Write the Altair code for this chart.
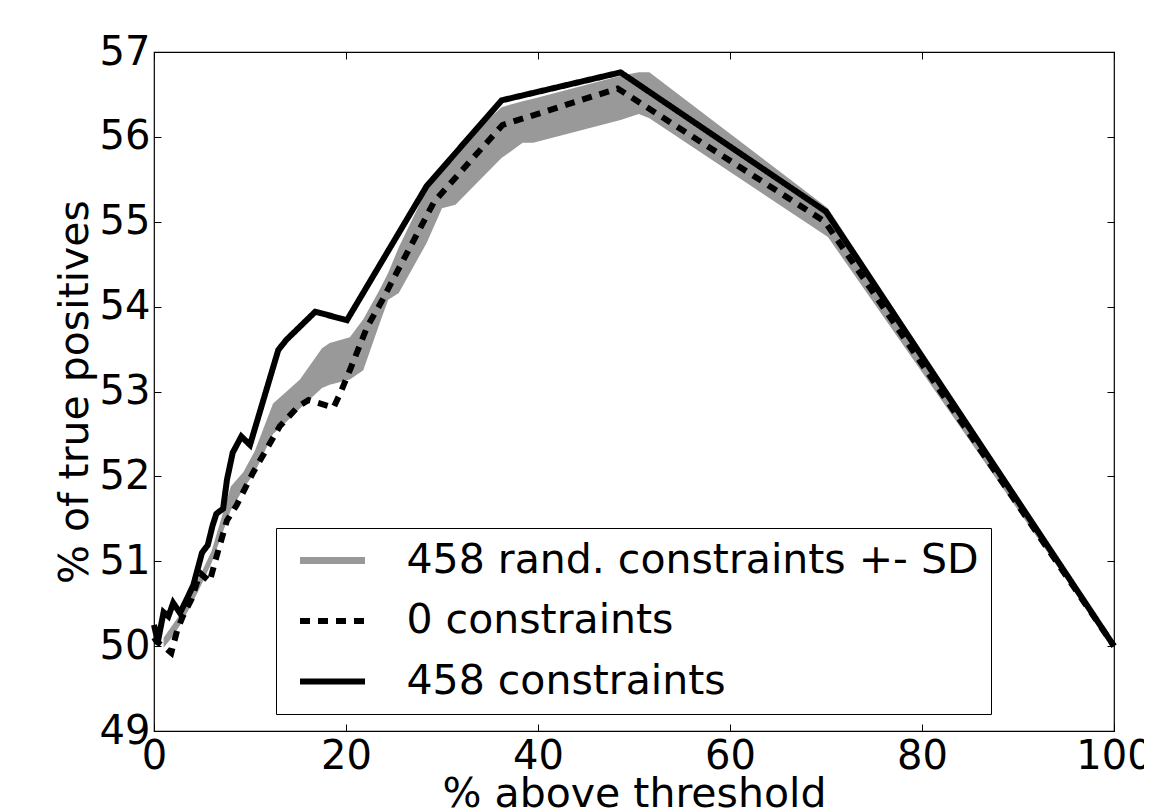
import altair as alt
import pandas as pd

# ---- data ----
# "458 constraints" (solid black)
solid_x = [0.0, 0.4, 1.0, 1.5, 2.0, 2.7, 3.4, 4.1, 5.0, 5.6, 6.1, 6.5, 7.2, 7.6, 8.2, 9.1, 10.0,
           12.95, 13.8, 16.8, 20.1, 28.4, 36.2, 48.6, 70.0, 100.0]
solid_y = [50.25, 50.05, 50.4, 50.35, 50.51, 50.39, 50.55, 50.72, 51.1, 51.19, 51.42, 51.56, 51.62,
           51.96, 52.28, 52.47, 52.37, 53.49, 53.61, 53.94, 53.84, 55.42, 56.43, 56.76, 55.12, 50.0]

# "0 constraints" (dashed black)
dashed_x = [0.0, 0.3, 0.95, 1.8, 2.4, 3.0, 3.9, 4.8, 5.8, 6.5, 7.6, 8.6, 10.3, 13.1, 15.0, 16.1,
            18.7, 19.4, 20.4, 22.2, 23.7, 25.6, 29.2, 36.3, 48.3, 69.9, 100.0]
dashed_y = [50.1, 50.05, 50.0, 49.92, 50.18, 50.35, 50.55, 50.86, 50.76, 51.05, 51.48, 51.66, 52.04,
            52.59, 52.82, 52.9, 52.81, 52.98, 53.25, 53.76, 54.06, 54.47, 55.24, 56.14, 56.57, 55.0, 50.0]

# "458 rand. constraints +- SD" (grey band)
band_x = [1.0, 2.0, 3.0, 4.5, 6.0, 8.0, 9.3, 10.5, 12.4, 13.4, 15.2, 17.5, 18.3, 20.4, 21.8, 23.5,
          24.4, 25.5, 28.4, 30.0, 31.4, 36.2, 38.4, 39.5, 48.6, 50.5, 51.6, 70.2, 100.0]
band_hi = [50.1, 50.26, 50.42, 50.76, 51.12, 51.88, 52.05, 52.3, 52.86, 52.96, 53.14, 53.51, 53.57,
           53.64, 53.85, 54.2, 54.4, 54.7, 55.38, 55.68, 55.85, 56.35, 56.42, 56.45, 56.72, 56.76,
           56.76, 55.16, 50.03]
band_lo = [49.98, 50.12, 50.3, 50.62, 50.98, 51.6, 51.85, 52.05, 52.5, 52.6, 52.8, 53.04, 53.08,
           53.14, 53.25, 53.8, 54.08, 54.16, 54.75, 55.16, 55.2, 55.75, 55.93, 55.93, 56.2, 56.27,
           56.22, 54.82, 49.98]

series_names = ["458 rand. constraints +- SD", "0 constraints", "458 constraints"]
x_ticks = [0, 20, 40, 60, 80, 100]
y_ticks = [49, 50, 51, 52, 53, 54, 55, 56, 57]

GRAY = "#999999"
FONT = "DejaVu Sans"

lines = pd.DataFrame({
    "x": dashed_x + solid_x,
    "y": dashed_y + solid_y,
    "series": [series_names[1]] * len(dashed_x) + [series_names[2]] * len(solid_x),
    "idx": list(range(len(dashed_x))) + list(range(len(solid_x))),
})
band = pd.DataFrame({"x": band_x, "hi": band_hi, "lo": band_lo})

xscale = alt.Scale(domain=[0, 100], nice=False, zero=False)
yscale = alt.Scale(domain=[49, 57], nice=False, zero=False)

band_layer = alt.Chart(band).mark_area(color=GRAY, opacity=1).encode(
    x=alt.X("x:Q", scale=xscale, title="% above threshold",
            axis=alt.Axis(orient="bottom", values=x_ticks, labelPadding=5, titlePadding=-2)),
    y=alt.Y("hi:Q", scale=yscale, title="% of true positives",
            axis=alt.Axis(orient="left", values=y_ticks, labelPadding=4, titlePadding=3)),
    y2="lo:Q",
)

line_layer = alt.Chart(lines).mark_line(strokeCap="butt").encode(
    x=alt.X("x:Q", scale=xscale, title=None,
            axis=alt.Axis(orient="top", values=x_ticks, labels=False)),
    y=alt.Y("y:Q", scale=yscale, title=None,
            axis=alt.Axis(orient="right", values=y_ticks, labels=False)),
    color=alt.Color(
        "series:N",
        scale=alt.Scale(domain=series_names, range=[GRAY, "black", "black"]),
        legend=alt.Legend(
            orient="none", legendX=122, legendY=476, title=None,
            symbolType="stroke", symbolSize=4225, clipHeight=40,
            symbolOffset=8, labelOffset=38, labelLimit=1000,
            labelFont=FONT, labelFontSize=41, labelColor="black",
            strokeColor="black", fillColor="white",
            padding=12.5, rowPadding=19.5,
        ),
    ),
    strokeDash=alt.StrokeDash(
        "series:N",
        scale=alt.Scale(domain=series_names, range=[[1, 0], [10, 8], [1, 0]]),
    ),
    strokeWidth=alt.StrokeWidth(
        "series:N",
        scale=alt.Scale(type="ordinal", domain=series_names, range=[7, 6, 6]),
    ),
    order=alt.Order("idx:Q"),
)

chart = (
    alt.layer(band_layer, line_layer)
    .resolve_axis(x="independent", y="independent")
    .properties(
        width=960,
        height=679,
        autosize=alt.AutoSizeParams(type="none"),
        padding={"left": 146, "top": 44, "right": 30, "bottom": 79},
        background="white",
    )
    .configure_view(stroke="black", strokeWidth=1.2)
    .configure_axis(
        labelFont=FONT, titleFont=FONT, labelFontSize=40, titleFontSize=41,
        labelColor="black", titleColor="black", titleFontWeight="normal",
        tickColor="black", tickSize=7, tickWidth=1, domain=False, grid=False,
        offset=-7, labelFlush=False, labelOverlap=False,
    )
)

chart.save("out.html", embed_options={"renderer": "svg", "actions": False})
